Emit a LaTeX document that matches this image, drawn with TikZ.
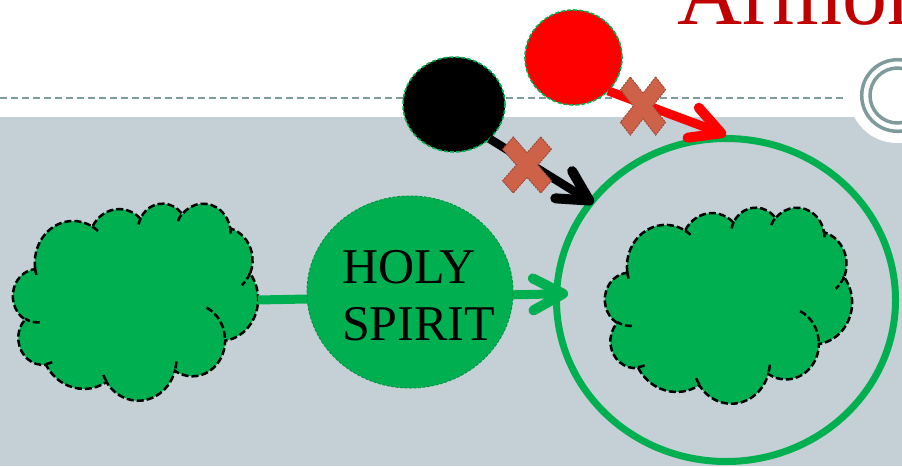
\documentclass[tikz,border=0pt]{standalone}
\usepackage{fontspec}
\setmainfont{Liberation Serif}
\usepackage{tikz}
\usetikzlibrary{arrows.meta,shapes.geometric}
\definecolor{pptgreen}{HTML}{00B050}
\definecolor{slidegray}{HTML}{C5D0D6}
\definecolor{rulegray}{HTML}{7E9A9A}
\definecolor{crossred}{HTML}{CD6248}
\definecolor{crossedge}{HTML}{9E4A36}
\definecolor{titlered}{HTML}{C00000}

% one puff of the cloud: x radius, y radius, start angle, sweep
\newcommand\cldarc[4]{%
  \pgfextra{%
    \pgfmathsetmacro\cldts{atan2(#1*sin(#3),#2*cos(#3))}%
    \pgfmathsetmacro\cldtd{mod(atan2(#1*sin(#3+#4),#2*cos(#3+#4))-\cldts+720,360)}%
    \global\let\cldS\cldts \global\let\cldD\cldtd}%
  arc[x radius=#1, y radius=#2, start angle=\cldS, delta angle=\cldD]}

\newcommand\cloudoutline{%
  (3.900,14.370) \cldarc{6.753}{9.190}{-190.48748}{123.78053}
  \cldarc{5.333}{7.267}{-144.10238}{89.94523}
  \cldarc{4.365}{5.945}{-145.80792}{99.72302}
  \cldarc{4.857}{6.595}{-130.98607}{117.24173}
  \cldarc{5.333}{7.273}{-78.70888}{109.02692}
  \cldarc{6.775}{9.220}{-46.26725}{130.26900}
  \cldarc{5.785}{7.867}{0.62502}{114.03333}
  \cldarc{6.752}{9.215}{22.45160}{115.17255}
  \cldarc{7.720}{10.543}{66.24263}{75.71102}
  \cldarc{4.360}{5.918}{-274.94208}{146.73557}
  \cldarc{4.345}{5.945}{-246.82850}{152.51885} -- cycle}

\newcommand\cloudinner{%
  (4.693,26.177) \cldarc{4.345}{5.945}{86.742}{26.4295}
  (6.928,34.899) \cldarc{4.360}{5.918}{73.61047}{11.44747}
  (16.478,39.090) \cldarc{6.752}{9.215}{137.62415}{14.0811}
  (28.827,34.751) \cldarc{6.752}{9.215}{6.45327}{15.99835}
  (34.129,22.954) \cldarc{5.785}{7.867}{-70.29235}{70.91737}
  (41.798,15.354) \cldarc{5.333}{7.273}{30.31803}{27.7515}
  (38.324,5.426) \cldarc{4.857}{6.595}{-13.74433}{14.8589}
  (29.078,3.952) \cldarc{4.857}{6.595}{-149.18145}{18.19537}
  (22.141,4.720) \cldarc{4.365}{5.945}{-163.49427}{17.68635}
  (14.000,5.192) \cldarc{6.753}{9.190}{-66.70695}{12.31935}
  (4.127,15.789) \cldarc{6.753}{9.190}{157.65435}{11.85817}}

\tikzset{
  cloud/.style={fill=pptgreen, draw=black, line width=2.5pt, dash pattern=on 7pt off 3pt},
  cloud edge/.style={draw=black, line width=2.5pt, dash pattern=on 7pt off 3pt},
  ball/.style={ellipse, draw=pptgreen, line width=1.6pt, dash pattern=on 4pt off 2pt, inner sep=0, outer sep=0},
  link/.style={line width=#1, -{Straight Barb[length=30pt, width=32pt, line width=10pt, round]}},
  xmark/.pic={
    \filldraw[fill=crossred, draw=crossedge, line width=1pt, dash pattern=on 2pt off 1pt]
      (0.72,1.28) -- (1.28,0.72) -- (0.56,0) -- (1.28,-0.72) -- (0.72,-1.28) -- (0,-0.56)
      -- (-0.72,-1.28) -- (-1.28,-0.72) -- (-0.56,0) -- (-1.28,0.72) -- (-0.72,1.28) -- (0,0.56) -- cycle;
  }
}

\begin{document}
\begin{tikzpicture}[x=1pt,y=1pt,yscale=-1]
  \path[use as bounding box] (0,0) rectangle (902,466);
  \clip (0,0) rectangle (902,466);
  \fill[white] (0,0) rectangle (902,466);
  \fill[slidegray] (0,117) rectangle (902,466);
  \draw[rulegray, line width=1.5pt, dash pattern=on 7pt off 4pt] (0,98) -- (843,98);
  % corner badge
  \fill[white] (897,95) circle[radius=48];
  \draw[rulegray, line width=3.5pt] (897.5,95.5) circle[radius=35.8];
  \draw[rulegray, line width=3.5pt] (897.5,95.5) circle[radius=27.5];

  \node[ellipse, draw=pptgreen, line width=7pt, minimum width=339pt, minimum height=323pt, inner sep=0] (bigcircle) at (726,300) {};

  % clouds
  \begin{scope}[shift={(13,203)}, xscale=5.671, yscale=4.560]
    \filldraw[cloud] \cloudoutline;
    \draw[cloud edge] \cloudinner;
  \end{scope}
  \begin{scope}[shift={(605,207)}, xscale=5.718, yscale=4.537]
    \filldraw[cloud] \cloudoutline;
    \draw[cloud edge] \cloudinner;
  \end{scope}
  \coordinate (leftcloud) at (258,300);

  \draw[link=9pt, pptgreen, shorten >=-15pt] (leftcloud) -- (bigcircle.178);

  \node[ellipse, fill=pptgreen, draw=pptgreen!85!black, line width=1pt, dash pattern=on 3pt off 1.5pt, minimum width=206pt, minimum height=192pt, inner sep=0] (holy) at (410,292) {};
  \node[font=\fontsize{50}{57}\selectfont, align=left, inner sep=0] (holytext) at (418.5,295.5) {HOLY\\SPIRIT};

  \node[ball, fill=black, minimum width=102pt, minimum height=95pt] (blackball) at (454,104.5) {};
  \node[ball, fill=red, minimum width=97pt, minimum height=95pt] (redball) at (573.5,57.5) {};

  \draw[link=8.5pt, black, shorten >=-6pt] (blackball.-44) -- (bigcircle.144);
  \draw[link=9pt, red] (redball.-44) -- (bigcircle.90);

  \pic[xscale=19.1, yscale=21.9] at (527,165) {xmark};
  \pic[xscale=17.6, yscale=22.7] at (643,106) {xmark};

  \node[font=\fontsize{90}{90}\selectfont, text=titlered, anchor=base west, inner sep=0] (title) at (677,24) {Armor};
\end{tikzpicture}
\end{document}
